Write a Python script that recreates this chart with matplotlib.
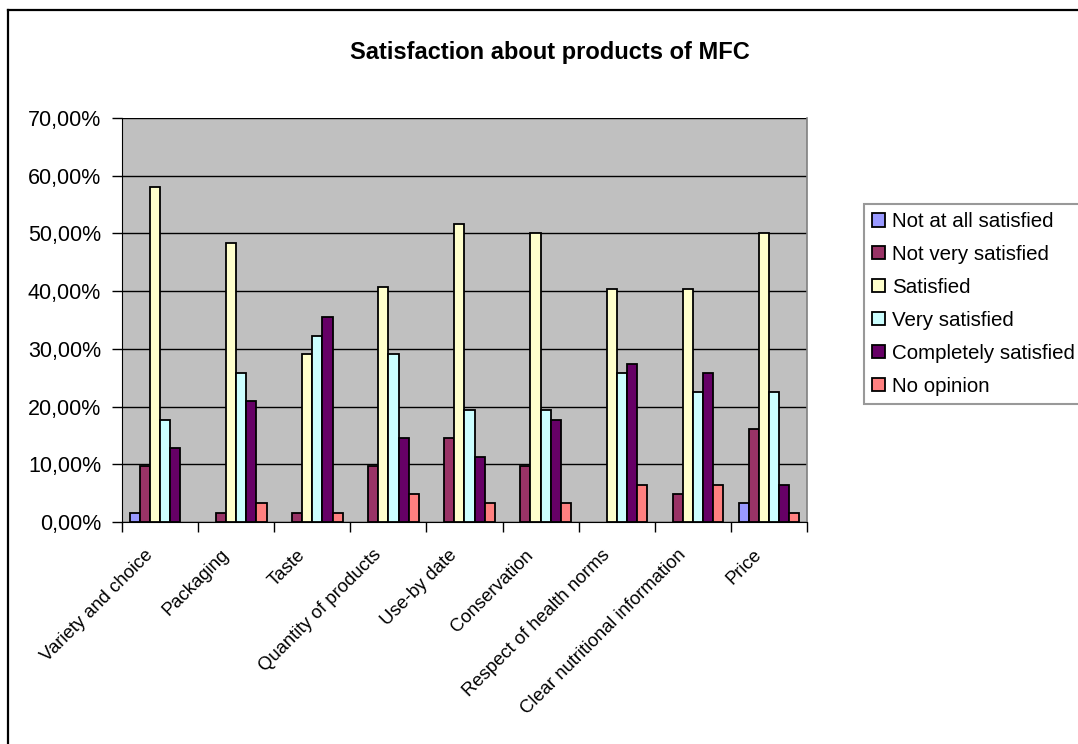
import matplotlib
matplotlib.use("Agg")
import matplotlib.pyplot as plt
import matplotlib.ticker as ticker
from matplotlib.lines import Line2D
import numpy as np

# ── Survey results (% of respondents) ────────────────────────────────────────
categories = [
    "Variety and choice", "Packaging", "Taste", "Quantity of products",
    "Use-by date", "Conservation", "Respect of health norms",
    "Clear nutritional information", "Price",
]
series_names = [
    "Not at all satisfied", "Not very satisfied", "Satisfied",
    "Very satisfied", "Completely satisfied", "No opinion",
]
not_at_all = [1.61, 0.00, 0.00, 0.00, 0.00, 0.00, 0.00, 0.00, 3.23]
not_very = [9.68, 1.61, 1.61, 9.68, 14.52, 9.68, 0.00, 4.84, 16.13]
satisfied = [58.06, 48.39, 29.03, 40.80, 51.61, 50.00, 40.32, 40.32, 50.00]
very = [17.74, 25.81, 32.26, 29.03, 19.35, 19.35, 25.81, 22.58, 22.58]
completely = [12.90, 20.97, 35.48, 14.52, 11.29, 17.74, 27.42, 25.81, 6.45]
no_opinion = [0.00, 3.23, 1.61, 4.84, 3.23, 3.23, 6.45, 6.45, 1.61]

yticks = [0, 10, 20, 30, 40, 50, 60, 70]

# Excel 2003 default chart palette
COLORS = ["#9999FF", "#993366", "#FFFFCC", "#CCFFFF", "#660066", "#FF8080"]
PLOT_BG = "#C0C0C0"

plt.rcParams["font.family"] = ["Liberation Sans", "DejaVu Sans"]

W, H = 1078, 744
fig = plt.figure(figsize=(W / 100, H / 100), dpi=100)
fig.patch.set_facecolor("white")

# outer chart frame (left and top edges)
fig.add_artist(Line2D([8 / W, 8 / W], [0, 1 - 10 / H], color="black", lw=1.6))
fig.add_artist(Line2D([8 / W, 1], [1 - 10 / H, 1 - 10 / H], color="black", lw=1.6))

ax = fig.add_axes([122 / W, 1 - 522 / H, (807 - 122) / W, (522 - 118) / H])
ax.set_facecolor(PLOT_BG)

data = [not_at_all, not_very, satisfied, very, completely, no_opinion]
n_series = len(data)
bw = 1 / 7.5
x = np.arange(len(categories))
for i, (vals, name, col) in enumerate(zip(data, series_names, COLORS)):
    offs = (i - (n_series - 1) / 2) * bw
    # empty answers get no bar at all (not even an outline)
    v = np.array(vals, dtype=float)
    v[v == 0] = np.nan
    ax.bar(x + offs, v, bw, color=col, edgecolor="black", linewidth=1.3,
           label=name, zorder=3)

ax.set_xlim(-0.5, len(categories) - 0.5)
ax.set_ylim(0, 70)
ax.set_yticks(yticks)
ax.yaxis.set_major_formatter(
    ticker.FuncFormatter(lambda v, _: f"{v:.2f}%".replace(".", ",")))
ax.yaxis.grid(True, color="black", linewidth=1.0, zorder=1)
ax.set_axisbelow(True)

ax.set_xticks(np.arange(len(categories) + 1) - 0.5)
ax.set_xticklabels([])
ax.tick_params(axis="x", direction="out", length=7, width=1, color="black")
ax.tick_params(axis="y", direction="out", length=7, width=1, color="black",
               labelsize=15.5, pad=8)

ax.spines["top"].set_visible(False)
ax.spines["right"].set_color("#808080")
ax.spines["right"].set_linewidth(1.2)
ax.spines["left"].set_color("black")
ax.spines["bottom"].set_color("black")

# rotated category labels
for xi, lab in zip(x, categories):
    ax.annotate(lab, xy=(xi, 0), xycoords="data", xytext=(-7, -22),
                textcoords="offset points", rotation=45, ha="right",
                va="center", rotation_mode="anchor", fontsize=13.3)

fig.text(550 / W, 1 - 53 / H, "Satisfaction about products of MFC",
         ha="center", va="center", fontsize=17, fontweight="bold")

leg = fig.legend(loc="upper left", bbox_to_anchor=(864 / W, 1 - 204 / H),
                 fontsize=14.8, frameon=True, fancybox=False,
                 handlelength=0.6, handleheight=0.6, handletextpad=0.35,
                 labelspacing=0.68, borderpad=0.4, borderaxespad=0)
leg.get_frame().set_edgecolor("#808080")
leg.get_frame().set_linewidth(1.5)

fig.savefig("out.png", dpi=100, facecolor="white")
